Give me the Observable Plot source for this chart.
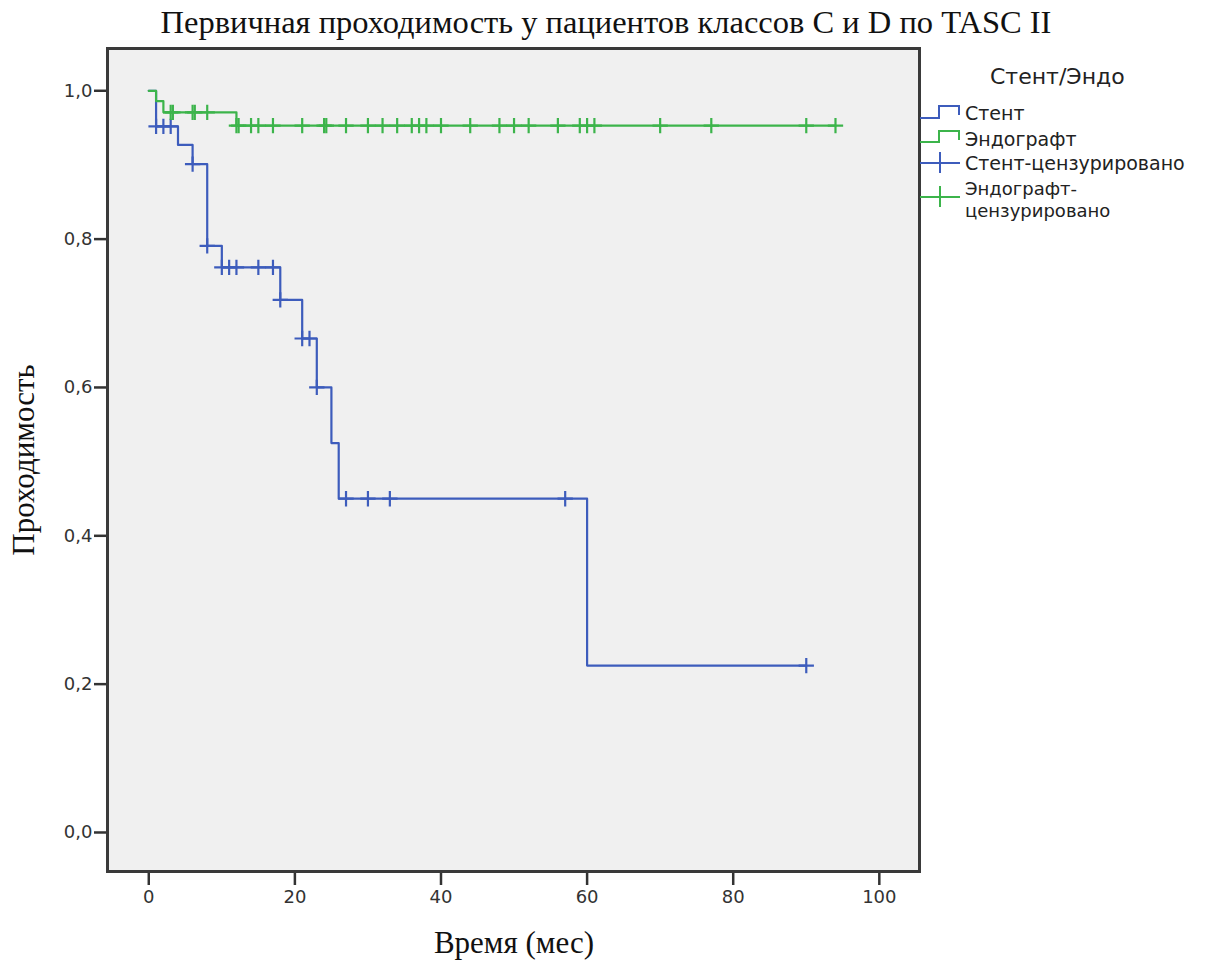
<!DOCTYPE html>
<html><head><meta charset="utf-8">
<script src="https://cdn.jsdelivr.net/npm/d3@7"></script>
<script src="https://cdn.jsdelivr.net/npm/@observablehq/plot@0.6"></script>
<style>body{margin:0;background:#fff}#chart{position:relative;width:1221px;height:963px}</style>
</head><body><div id="chart"></div>
<script>
// Kaplan–Meier steps (time in months, survival)
const stentTimes = [0, 1, 4, 6, 8, 10, 18, 21, 23, 25, 26, 60, 90];
const stentSurv  = [1, 0.952, 0.927, 0.901, 0.791, 0.762, 0.718, 0.666, 0.600, 0.525, 0.450, 0.225, 0.225];
const stentCensored = [1, 2, 3, 6, 8, 10, 11, 12, 15, 17, 18, 21, 22, 23, 27, 30, 33, 57, 90];
const endoTimes = [0, 1, 2, 12, 94];
const endoSurv  = [1, 0.986, 0.971, 0.953, 0.953];
const endoCensored = [3, 3.3, 6, 6.3, 8, 12, 12.3, 14, 15, 17, 21, 24, 24.3, 27, 30, 32, 34, 36, 37, 38, 40, 44, 48, 50, 52, 56, 59, 60, 61, 70, 77, 90, 94];
const xTicks = [0, 20, 40, 60, 80, 100];
const yTicks = [0, 0.2, 0.4, 0.6, 0.8, 1.0];
const seriesNames = ["Стент", "Эндографт", "Стент-цензурировано", "Эндографт-цензурировано"];
const legendTitle = "Стент/Эндо";
const chartTitle = "Первичная проходимость у пациентов классов C и D по TASC II";
const xLabel = "Время (мес)";
const yLabel = "Проходимость";

const BLUE = "#3d5cbc", GREEN = "#3cb44b";

const stent = stentTimes.map((t, i) => ({t, s: stentSurv[i]}));
const endo = endoTimes.map((t, i) => ({t, s: endoSurv[i]}));
function survAt(times, surv, t) {
  let v = surv[0];
  for (let i = 0; i < times.length; i++) if (times[i] <= t) v = surv[i];
  return v;
}
const stentC = stentCensored.map(t => ({t, s: survAt(stentTimes, stentSurv, t)}));
const endoC = endoCensored.map(t => ({t, s: survAt(endoTimes, endoSurv, t)}));

const fmt = d => d.toFixed(1).replace(".", ",");

const svg = Plot.plot({
  width: 1221, height: 963,
  marginLeft: 107, marginRight: 302, marginTop: 48, marginBottom: 92,
  style: {background: "#fff", fontFamily: "DejaVu Sans, sans-serif", overflow: "visible"},
  x: {domain: [-5.65, 105.5]},
  y: {domain: [-0.0526, 1.057]},
  marks: [
    Plot.frame({fill: "#f0f0f0", stroke: null}),
    Plot.axisX({ticks: xTicks, tickSize: 14, tickPadding: 5, fontSize: 18, label: null, stroke: "#333", strokeWidth: 2.5, color: "#333"}),
    Plot.axisY({ticks: yTicks, tickFormat: fmt, tickSize: 13, tickPadding: 2, fontSize: 18, label: null, stroke: "#333", strokeWidth: 2.5, color: "#333"}),
    Plot.line(stent, {x: "t", y: "s", curve: "step-after", stroke: BLUE, strokeWidth: 2.2}),
    Plot.line(endo, {x: "t", y: "s", curve: "step-after", stroke: GREEN, strokeWidth: 2.2}),
    Plot.dot(stentC, {x: "t", y: "s", symbol: "plus", r: 5, stroke: BLUE, strokeWidth: 2.2}),
    Plot.dot(endoC, {x: "t", y: "s", symbol: "plus", r: 5, stroke: GREEN, strokeWidth: 2.2}),
    Plot.frame({stroke: "#3a3a3a", strokeWidth: 3})
  ]
});
document.getElementById("chart").appendChild(svg);

const g = d3.select(svg).append("g");
const serif = "Liberation Serif, Times New Roman, serif";
g.append("text").attr("x", 606).attr("y", 33).attr("text-anchor", "middle")
  .attr("font-family", serif).attr("font-size", 32.5).attr("fill", "#111")
  .text(chartTitle);
g.append("text").attr("x", 514).attr("y", 953).attr("text-anchor", "middle")
  .attr("font-family", serif).attr("font-size", 31).attr("fill", "#111")
  .text(xLabel);
g.append("text").attr("transform", "translate(34,460) rotate(-90)").attr("text-anchor", "middle")
  .attr("font-family", serif).attr("font-size", 31).attr("fill", "#111")
  .text(yLabel);

// legend
const lg = g.append("g").attr("font-family", "DejaVu Sans, sans-serif").attr("fill", "#222").attr("text-anchor", "start");
lg.append("text").attr("x", 990).attr("y", 84).attr("font-size", 22).text(legendTitle);
lg.append("path").attr("d", "M920,118H939V106H959V115").attr("fill", "none").attr("stroke", BLUE).attr("stroke-width", 2);
lg.append("path").attr("d", "M920,142H939V131H959V140").attr("fill", "none").attr("stroke", GREEN).attr("stroke-width", 2);
lg.append("path").attr("d", "M920,163H960M940,152V173").attr("fill", "none").attr("stroke", BLUE).attr("stroke-width", 2);
lg.append("path").attr("d", "M920,197H960M940,186V207").attr("fill", "none").attr("stroke", GREEN).attr("stroke-width", 2);
lg.append("text").attr("x", 965).attr("y", 120).attr("font-size", 19).text(seriesNames[0]);
lg.append("text").attr("x", 965).attr("y", 146).attr("font-size", 19).text(seriesNames[1]);
lg.append("text").attr("x", 965).attr("y", 170).attr("font-size", 19).text(seriesNames[2]);
const wrapped = lg.append("text").attr("x", 965).attr("y", 195).attr("font-size", 18);
wrapped.append("tspan").attr("x", 965).attr("dy", 0).text("Эндографт-");
wrapped.append("tspan").attr("x", 965).attr("dy", 21.5).text("цензурировано");
</script></body></html>
